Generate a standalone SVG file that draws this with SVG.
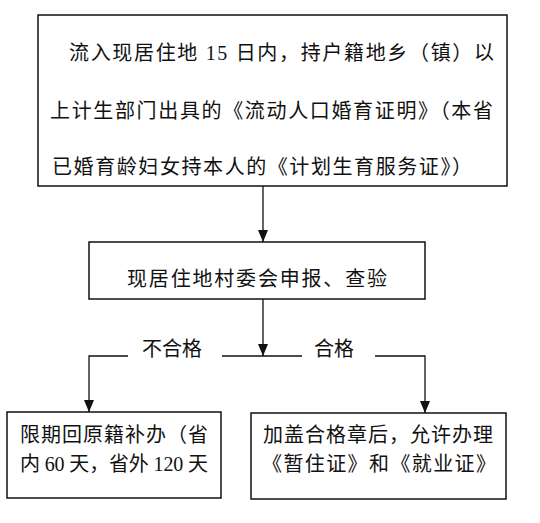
<svg xmlns="http://www.w3.org/2000/svg" width="540" height="523" viewBox="0 0 540 523">
<defs>
<style>
.box{fill:#fff;stroke:#111;stroke-width:1.5}
.t{font-family:"Liberation Serif","Noto Sans CJK SC",serif;font-size:20px;fill:#111}
.c{stroke:#111;stroke-width:1.3;fill:none}
</style>
<marker id="ah" markerUnits="userSpaceOnUse" markerWidth="12" markerHeight="10" refX="12" refY="5" orient="auto">
<path d="M0,0 L12,5 L0,10 z" fill="#111"/>
</marker>
</defs>
<rect width="540" height="523" fill="#fff"/>
<g id="connectors">
<line class="c" x1="263" y1="186" x2="263" y2="242" marker-end="url(#ah)"/>
<line class="c" x1="263" y1="299" x2="263" y2="356" marker-end="url(#ah)"/>
<polyline class="c" points="128,356 89,356 89,412" marker-end="url(#ah)"/>
<line class="c" x1="222" y1="356" x2="302" y2="356"/>
<polyline class="c" points="375,356 425,356 425,413" marker-end="url(#ah)"/>
<text class="t" x="142" y="356" textLength="60" lengthAdjust="spacing">不合格</text>
<text class="t" x="314" y="356" textLength="40" lengthAdjust="spacing">合格</text>
</g>
<g id="node-start">
<rect class="box" x="38" y="15" width="469" height="171"/>
<text class="t" x="69" y="60" textLength="425" lengthAdjust="spacing">流入现居住地 15 日内，持户籍地乡（镇）以</text>
<text class="t" x="50" y="118" textLength="443" lengthAdjust="spacing">上计生部门出具的《流动人口婚育证明》（本省</text>
<text class="t" x="52" y="174" textLength="420" lengthAdjust="spacing">已婚育龄妇女持本人的《计划生育服务证》）</text>
</g>
<g id="node-check">
<rect class="box" x="89" y="242" width="336" height="57"/>
<text class="t" x="127" y="286" textLength="260" lengthAdjust="spacing">现居住地村委会申报、查验</text>
</g>
<g id="node-fail">
<rect class="box" x="7" y="412" width="214" height="86"/>
<text class="t" x="20" y="442" textLength="188" lengthAdjust="spacing">限期回原籍补办（省</text>
<text class="t" x="20" y="471" textLength="188" lengthAdjust="spacing">内 60 天，省外 120 天</text>
</g>
<g id="node-pass">
<rect class="box" x="251" y="413" width="255" height="86"/>
<text class="t" x="263" y="442" textLength="230" lengthAdjust="spacing">加盖合格章后，允许办理</text>
<text class="t" x="262" y="471" textLength="234" lengthAdjust="spacing">《暂住证》和《就业证》</text>
</g>
</svg>
